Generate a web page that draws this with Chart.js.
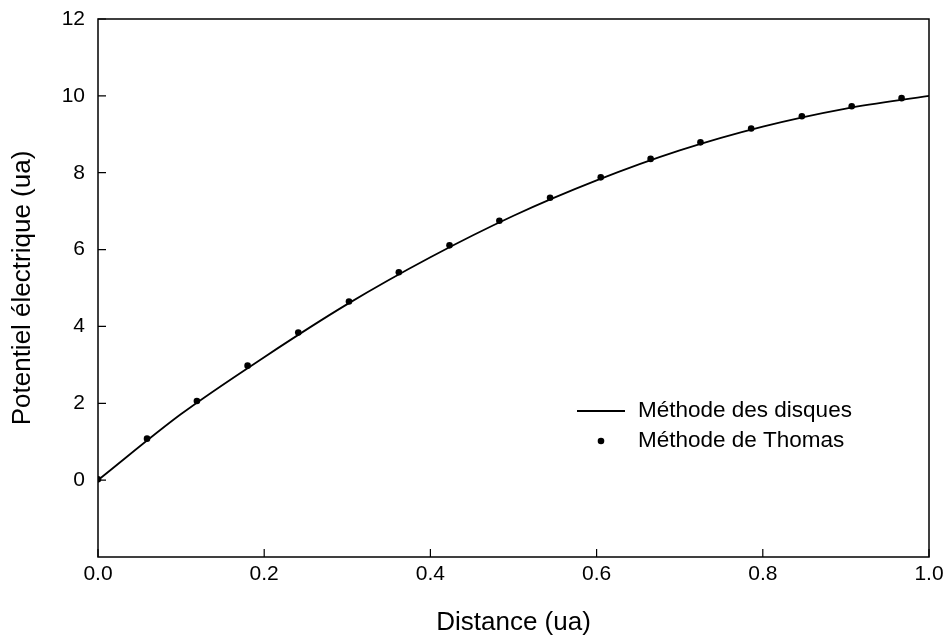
<!DOCTYPE html>
<html>
<head>
<meta charset="utf-8">
<title>Potentiel électrique</title>
<script src="https://cdn.jsdelivr.net/npm/chart.js@4/dist/chart.umd.min.js"></script>
<style>
  html, body { margin: 0; padding: 0; background: #fff; }
</style>
</head>
<body>
<canvas id="potentialChart" width="949" height="641"></canvas>
<script>
// Méthode des disques (courbe continue)
const distanceDisques = [0, 0.1, 0.2, 0.3, 0.4, 0.5, 0.6, 0.7, 0.8, 0.9, 1.0];
const potentielDisques = [0, 1.72, 3.2, 4.58, 5.8, 6.88, 7.8, 8.58, 9.2, 9.67, 10.0];

// Méthode de Thomas (points)
const distanceThomas = [0, 0.059, 0.119, 0.180, 0.241, 0.302, 0.362, 0.423, 0.483,
  0.544, 0.605, 0.665, 0.725, 0.786, 0.847, 0.907, 0.967];
const potentielThomas = [0.02, 1.08, 2.06, 2.98, 3.84, 4.65, 5.41, 6.11, 6.75,
  7.35, 7.88, 8.36, 8.79, 9.15, 9.47, 9.73, 9.94];

const xTicks = [0, 0.2, 0.4, 0.6, 0.8, 1.0];
const yTicks = [0, 2, 4, 6, 8, 10, 12];

const family = 'Arial, "Liberation Sans", sans-serif';
const tickFont = { family, size: 21 };
const titleFont = { family, size: 26 };

// box around the plot area + inward tick marks + legend inside the plot
const framePlugin = {
  id: 'frame',
  afterDraw(chart) {
    const { ctx, chartArea: a, scales } = chart;
    ctx.save();
    ctx.strokeStyle = '#000';
    ctx.lineWidth = 1.5;
    ctx.strokeRect(a.left, a.top, a.right - a.left, a.bottom - a.top);

    ctx.lineWidth = 1.2;
    ctx.beginPath();
    xTicks.forEach(v => {
      const x = scales.x.getPixelForValue(v);
      ctx.moveTo(x, a.bottom);
      ctx.lineTo(x, a.bottom - 8);
    });
    yTicks.forEach(v => {
      const y = scales.y.getPixelForValue(v);
      ctx.moveTo(a.left, y);
      ctx.lineTo(a.left + 8, y);
    });
    ctx.stroke();

    // legend
    const lx = a.left + 479;
    const ly = a.top + 392;
    ctx.font = '22.5px ' + family;
    ctx.fillStyle = '#000';
    ctx.textBaseline = 'middle';
    ctx.lineWidth = 1.8;
    ctx.beginPath();
    ctx.moveTo(lx, ly);
    ctx.lineTo(lx + 48, ly);
    ctx.stroke();
    ctx.fillText(chart.data.datasets[0].label, lx + 61, ly);
    ctx.beginPath();
    ctx.arc(lx + 24, ly + 30, 3.3, 0, Math.PI * 2);
    ctx.fill();
    ctx.fillText(chart.data.datasets[1].label, lx + 61, ly + 30);
    ctx.restore();
  }
};

const ctx = document.getElementById('potentialChart').getContext('2d');

new Chart(ctx, {
  type: 'scatter',
  data: {
    datasets: [{
      label: 'Méthode des disques',
      data: distanceDisques.map((d, i) => ({ x: d, y: potentielDisques[i] })),
      showLine: true,
      borderColor: '#000',
      borderWidth: 1.8,
      pointRadius: 0,
      cubicInterpolationMode: 'monotone'
    }, {
      label: 'Méthode de Thomas',
      data: distanceThomas.map((d, i) => ({ x: d, y: potentielThomas[i] })),
      showLine: false,
      backgroundColor: '#000',
      borderColor: '#000',
      pointRadius: 3.3,
      pointBorderWidth: 0
    }]
  },
  options: {
    responsive: false,
    animation: false,
    layout: { padding: { top: 19, right: 20, left: 0, bottom: 0 } },
    plugins: {
      legend: { display: false },
      tooltip: { enabled: false }
    },
    scales: {
      x: {
        type: 'linear',
        min: 0,
        max: 1,
        afterBuildTicks: s => { s.ticks = xTicks.map(v => ({ value: v })); },
        afterFit: s => { s.height = 84; s.paddingRight = 0; s.paddingLeft = 0; },
        grid: { display: false, drawTicks: false },
        border: { display: false },
        ticks: {
          color: '#000',
          font: tickFont,
          padding: 5,
          maxRotation: 0,
          callback: v => v.toFixed(1)
        },
        title: {
          display: true,
          text: 'Distance (ua)',
          color: '#000',
          font: titleFont,
          padding: { top: 0, bottom: 3 }
        }
      },
      y: {
        type: 'linear',
        min: -2,
        max: 12,
        afterBuildTicks: s => { s.ticks = yTicks.map(v => ({ value: v })); },
        afterFit: s => { s.width = 98; s.paddingTop = 0; s.paddingBottom = 0; },
        grid: { display: false, drawTicks: false },
        border: { display: false },
        ticks: {
          color: '#000',
          font: tickFont,
          padding: 13
        },
        title: {
          display: true,
          text: 'Potentiel électrique (ua)',
          color: '#000',
          font: titleFont,
          padding: { top: 7, bottom: 0 }
        }
      }
    }
  },
  plugins: [framePlugin]
});
</script>
</body>
</html>
